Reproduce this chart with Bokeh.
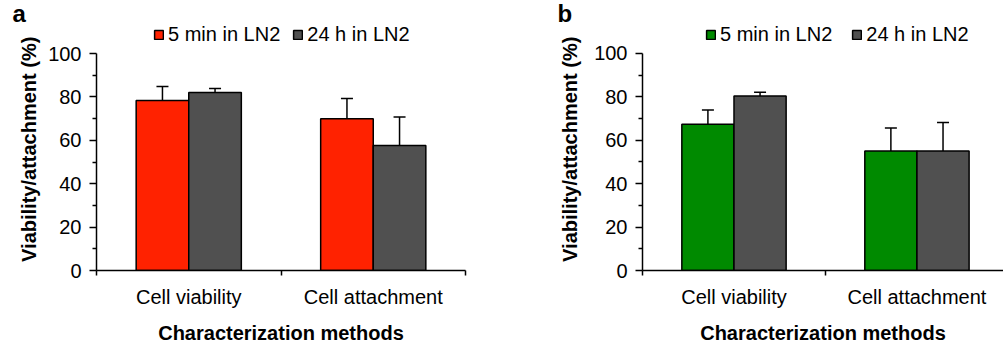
from bokeh.plotting import figure
from bokeh.models import (Range1d, FixedTicker, Whisker, TeeHead, ColumnDataSource,
                          Legend, LegendItem)
from bokeh.layouts import row
from bokeh.embed import file_html
from bokeh.resources import INLINE

# ---------------- data ----------------
categories = ["Cell viability", "Cell attachment"]
series_names = ["5 min in LN2", "24 h in LN2"]
panel_letters = ["a", "b"]

a_5min = [78.3, 69.9]
a_5min_err = [6.5, 9.4]
a_24h = [82.0, 57.6]
a_24h_err = [1.9, 13.2]

b_5min = [67.4, 55.0]
b_5min_err = [6.5, 10.6]
b_24h = [80.3, 55.0]
b_24h_err = [1.8, 13.2]

y_ticks = [0, 20, 40, 60, 80, 100]
y_minor_ticks = [10, 30, 50, 70, 90]

x_title = "Characterization methods"
y_title = "Viability/attachment  (%)"

FONT = "Liberation Sans"
GRAY = "#505050"


def make_panel(letter, v1, e1, v2, e2, color1, width, mbl, mbr, x_end,
               y_end, legend_x, legend_spacing, title_offset, ylab_standoff):
    p = figure(width=width, height=350, output_backend="svg", toolbar_location=None,
               x_range=Range1d(0, x_end), y_range=Range1d(0, y_end),
               min_border_left=mbl, min_border_right=mbr,
               min_border_top=22, min_border_bottom=80)
    p.outline_line_color = None
    p.xgrid.visible = False
    p.ygrid.visible = False

    # panel letter as title
    p.title.text = letter
    p.title.align = "left"
    p.title.offset = title_offset
    p.title.standoff = -9
    p.title.text_font = FONT
    p.title.text_font_size = "24px"
    p.title.text_font_style = "bold"
    p.title.text_color = "black"

    bw = 0.285
    off = bw / 2
    n = len(categories)
    xs1 = [i + 0.5 - off for i in range(n)]
    xs2 = [i + 0.5 + off for i in range(n)]

    r1 = p.vbar(x=xs1, top=v1, width=bw, fill_color=color1,
                line_color="black", line_width=1.5)
    r2 = p.vbar(x=xs2, top=v2, width=bw, fill_color=GRAY,
                line_color="black", line_width=1.5)

    for xs, v, e in ((xs1, v1, e1), (xs2, v2, e2)):
        src = ColumnDataSource(dict(base=xs, lower=v,
                                    upper=[a + b for a, b in zip(v, e)]))
        w = Whisker(base="base", lower="lower", upper="upper", source=src,
                    dimension="height", line_color="black", line_width=1.5,
                    upper_head=TeeHead(size=12, line_color="black", line_width=1.5),
                    lower_head=None, level="overlay")
        p.add_layout(w)

    # x axis
    xa = p.xaxis[0]
    xa.ticker = FixedTicker(ticks=[i + 0.5 for i in range(n)],
                            minor_ticks=list(range(n + 1)))
    xa.major_label_overrides = {i + 0.5: c for i, c in enumerate(categories)}
    xa.major_tick_out = 0
    xa.major_tick_in = 0
    xa.minor_tick_out = 5
    xa.minor_tick_in = 0
    xa.minor_tick_line_width = 1.5
    xa.axis_line_width = 1.5
    xa.axis_line_color = "black"
    xa.major_label_text_font = FONT
    xa.major_label_text_font_size = "20px"
    xa.major_label_text_color = "black"
    xa.major_label_standoff = 10
    xa.axis_label = x_title
    xa.axis_label_text_font = FONT
    xa.axis_label_text_font_size = "20px"
    xa.axis_label_text_font_style = "bold"
    xa.axis_label_text_color = "black"
    xa.axis_label_standoff = 11

    # y axis
    ya = p.yaxis[0]
    ya.bounds = (y_ticks[0], y_ticks[-1])
    ya.ticker = FixedTicker(ticks=y_ticks, minor_ticks=y_minor_ticks)
    ya.major_tick_out = 7
    ya.major_tick_in = 0
    ya.minor_tick_out = 4
    ya.minor_tick_in = 0
    ya.major_tick_line_width = 1.5
    ya.minor_tick_line_width = 1.5
    ya.axis_line_width = 1.5
    ya.axis_line_color = "black"
    ya.major_label_text_font = FONT
    ya.major_label_text_font_size = "20px"
    ya.major_label_text_color = "black"
    ya.major_label_standoff = 8
    ya.axis_label = y_title
    ya.axis_label_text_font = FONT
    ya.axis_label_text_font_size = "20px"
    ya.axis_label_text_font_style = "bold"
    ya.axis_label_text_color = "black"
    ya.axis_label_standoff = ylab_standoff

    legend = Legend(items=[LegendItem(label=series_names[0], renderers=[r1]),
                           LegendItem(label=series_names[1], renderers=[r2])],
                    orientation="horizontal", location=(legend_x, 224),
                    label_text_font=FONT, label_text_font_size="20px",
                    label_text_color="black",
                    glyph_width=11, glyph_height=11, label_standoff=4,
                    label_height=16, spacing=legend_spacing, padding=0, margin=0,
                    border_line_alpha=0, background_fill_alpha=0)
    p.add_layout(legend)
    return p


pa = make_panel(panel_letters[0], a_5min, a_5min_err, a_24h, a_24h_err, "#FF2200",
                500, 96, 35, 2.0, 114.3, 57, 12, -84, 5)
pb = make_panel(panel_letters[1], b_5min, b_5min_err, b_24h, b_24h_err, "#008A00",
                503, 142, 0, 1.973, 114.2, 63, 19, -85, 10)

layout = row(pa, pb, spacing=0)
open("out.html", "w").write(file_html(layout, INLINE))
